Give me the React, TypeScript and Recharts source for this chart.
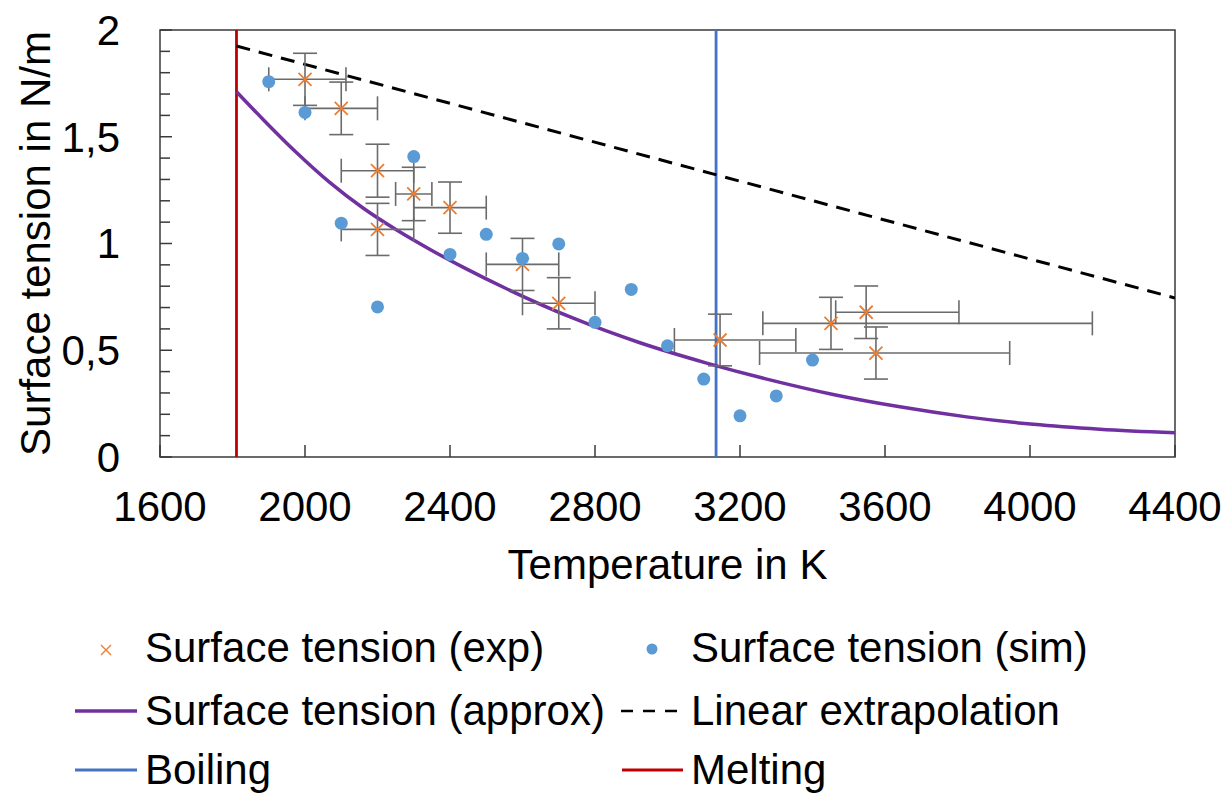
import { ComposedChart, Line, Scatter, XAxis, YAxis, ErrorBar, ReferenceLine, ReferenceArea, Label } from "recharts";

// melting / boiling temperatures (K)
const MELTING_T = 1811;
const BOILING_T = 3134;

const xTicks = [1600, 2000, 2400, 2800, 3200, 3600, 4000, 4400];
const yTicks = [0, 0.1, 0.2, 0.3, 0.4, 0.5, 0.6, 0.7, 0.8, 0.9, 1, 1.1, 1.2, 1.3, 1.4, 1.5, 1.6, 1.7, 1.8, 1.9, 2];

// experiment (with error bars)
const expT = [2000, 2100, 2200, 2300, 2400, 2200, 2600, 2700, 3145, 3451, 3548, 3575];
const expGamma = [1.769, 1.633, 1.341, 1.232, 1.168, 1.066, 0.902, 0.72, 0.548, 0.626, 0.678, 0.487];
const expTErr = [
  [100, 113], [100, 100], [100, 100], [50, 50], [100, 100], [100, 100],
  [100, 100], [100, 100], [126, 209], [188, 721], [84, 256], [321, 369],
];
const expGammaErr = [0.122, 0.123, 0.124, 0.125, 0.12, 0.122, 0.122, 0.12, 0.121, 0.122, 0.123, 0.122];

// simulation
const simT = [1900, 2000, 2100, 2200, 2300, 2400, 2500, 2600, 2700, 2800, 2900, 3000, 3100, 3200, 3300, 3400];
const simGamma = [1.758, 1.614, 1.095, 0.703, 1.407, 0.949, 1.043, 0.93, 0.998, 0.631, 0.785, 0.521, 0.365, 0.193, 0.286, 0.454];

// approximation curve
const approxT = [1811, 1885, 1977, 2069, 2161, 2253, 2345, 2437, 2556, 2740, 2924, 3108, 3274, 3457, 3641, 3825, 4009, 4193, 4400];
const approxGamma = [1.711, 1.58, 1.425, 1.285, 1.165, 1.063, 0.972, 0.888, 0.788, 0.65, 0.535, 0.44, 0.365, 0.293, 0.235, 0.188, 0.153, 0.13, 0.113];

// linear extrapolation
const linearT = [1811, 4400];
const linearGamma = [1.925, 0.745];

const expData = expT.map((T, i) => ({ T, g: expGamma[i], tErr: expTErr[i], gErr: expGammaErr[i] }));
const simData = simT.map((T, i) => ({ T, g: simGamma[i] }));
const approxData = approxT.map((T, i) => ({ T, g: approxGamma[i] }));
const linearData = linearT.map((T, i) => ({ T, g: linearGamma[i] }));

const FONT = '"Liberation Sans", Arial, sans-serif';
const AXIS = "#3a3a3a";
const ORANGE = "#ED7D31";
const BLUE_DOT = "#5B9BD5";
const PURPLE = "#7030A0";
const BOIL = "#4472C4";
const MELT = "#C00000";
const ERR = "#6b6b6b";

const X_MARGIN = 34;
const Y_MARGIN = 40;

const XTick = (props: any) => {
  const { x, y, payload } = props;
  const axisY = y - X_MARGIN;
  return (
    <g>
      <line x1={x} x2={x} y1={axisY} y2={axisY - 12} stroke={AXIS} strokeWidth={1.5} />
      <text x={x} y={y} dy="0.71em" textAnchor="middle" fontSize={42} fill="#000" fontFamily={FONT}>
        {payload.value}
      </text>
    </g>
  );
};

const YTick = (props: any) => {
  const { x, y, payload } = props;
  const v = payload.value as number;
  const axisX = x + Y_MARGIN;
  const major = Math.abs(v * 2 - Math.round(v * 2)) < 1e-6;
  return (
    <g>
      <line x1={axisX} x2={axisX + (major ? 12 : 10)} y1={y} y2={y} stroke={AXIS} strokeWidth={1.5} />
      {major && (
        <text x={x} y={y} dy="0.355em" textAnchor="end" fontSize={42} fill="#000" fontFamily={FONT}>
          {String(v).replace(".", ",")}
        </text>
      )}
    </g>
  );
};

const Cross = (props: any) => {
  const { cx, cy } = props;
  const s = 6.5;
  return (
    <path
      d={`M${cx - s},${cy - s}L${cx + s},${cy + s}M${cx - s},${cy + s}L${cx + s},${cy - s}`}
      stroke={ORANGE}
      strokeWidth={1.8}
      fill="none"
    />
  );
};

const Dot = (props: any) => <circle cx={props.cx} cy={props.cy} r={6.5} fill={BLUE_DOT} />;

function ChartLegend() {
  const col1 = 145;
  const col2 = 691;
  return (
    <svg width={1230} height={194} style={{ position: "absolute", left: 0, top: 600 }}>
      <g fontFamily={FONT} fontSize={42} fill="#000">
        <path d="M101,45L111,55M101,55L111,45" stroke={ORANGE} strokeWidth={1.4} />
        <text x={col1} y={62}>Surface tension (exp)</text>
        <circle cx={652} cy={49} r={5.5} fill={BLUE_DOT} />
        <text x={col2} y={62}>Surface tension (sim)</text>

        <line x1={75} x2={137} y1={111} y2={111} stroke={PURPLE} strokeWidth={3.5} />
        <text x={col1} y={125}>Surface tension (approx)</text>
        <line x1={621} x2={677} y1={111} y2={111} stroke="#000" strokeWidth={2.5} strokeDasharray="12 10" />
        <text x={col2} y={125}>Linear extrapolation</text>

        <line x1={75} x2={137} y1={170} y2={170} stroke={BOIL} strokeWidth={3} />
        <text x={col1} y={184}>Boiling</text>
        <line x1={622} x2={683} y1={170} y2={170} stroke={MELT} strokeWidth={3} />
        <text x={col2} y={184}>Melting</text>
      </g>
    </svg>
  );
}

export default function App() {
  return (
    <div style={{ position: "absolute", left: 0, top: 0, width: 1230, height: 794, background: "#fff", fontFamily: FONT }}>
      <ComposedChart width={1230} height={600} margin={{ top: 30, right: 55, bottom: 13, left: 0 }}>
        <XAxis
          type="number"
          dataKey="T"
          domain={[1600, 4400]}
          ticks={xTicks}
          interval={0}
          allowDataOverflow
          tickSize={0}
          tickMargin={X_MARGIN}
          tick={XTick}
          tickLine={false}
          axisLine={false}
          height={130}
        >
          <Label value="Temperature in K" position="insideBottom" offset={8} fontSize={42} fill="#000" />
        </XAxis>
        <YAxis
          type="number"
          dataKey="g"
          domain={[0, 2]}
          ticks={yTicks}
          interval={0}
          allowDataOverflow
          tickSize={0}
          tickMargin={Y_MARGIN}
          tick={YTick}
          tickLine={false}
          axisLine={false}
          width={160}
        >
          <Label
            value="Surface tension in N/m"
            angle={-90}
            position="insideLeft"
            offset={35}
            fontSize={42}
            fill="#000"
            style={{ textAnchor: "middle" }}
          />
        </YAxis>
        <ReferenceArea x1={1600} x2={4400} y1={0} y2={2} fill="none" stroke={AXIS} strokeWidth={1.5} />
        <ReferenceLine x={MELTING_T} stroke={MELT} strokeWidth={2.8} />
        <ReferenceLine x={BOILING_T} stroke={BOIL} strokeWidth={2.8} />
        <Line
          data={linearData}
          dataKey="g"
          stroke="#000"
          strokeWidth={3}
          strokeDasharray="14 9"
          dot={false}
          activeDot={false}
          isAnimationActive={false}
        />
        <Line
          data={approxData}
          dataKey="g"
          type="monotone"
          stroke={PURPLE}
          strokeWidth={3.5}
          dot={false}
          activeDot={false}
          isAnimationActive={false}
        />
        <Scatter data={expData} dataKey="g" shape={Cross} isAnimationActive={false}>
          <ErrorBar dataKey="tErr" direction="x" stroke={ERR} strokeWidth={1.6} width={12} />
          <ErrorBar dataKey="gErr" direction="y" stroke={ERR} strokeWidth={1.6} width={12} />
        </Scatter>
        <Scatter data={simData} dataKey="g" shape={Dot} isAnimationActive={false} />
      </ComposedChart>
      <ChartLegend />
    </div>
  );
}
